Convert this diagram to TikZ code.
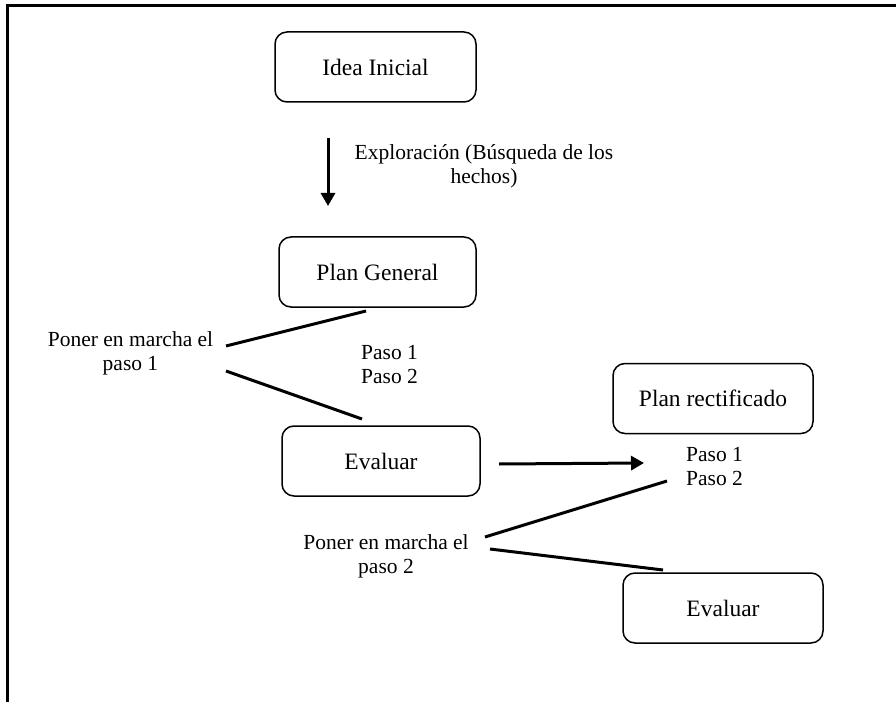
\documentclass[tikz,border=0pt]{standalone}
\usepackage{fontspec}
\setmainfont{Liberation Serif}
\usetikzlibrary{arrows.meta}
\begin{document}
\begin{tikzpicture}[x=1pt,y=-1pt,
  boxnode/.style={draw,line width=1.5pt,rounded corners=12pt,inner sep=0pt,font=\fontsize{23.5}{26}\selectfont},
  lbl/.style={inner sep=0pt,align=center,font=\fontsize{21.5}{24}\selectfont},
  conn/.style={line width=3pt},
  arr/.style={line width=3pt,-{Triangle[length=13pt,width=14pt]}}]
\useasboundingbox (0,0) rectangle (896,703);
\draw[line width=2.6pt] (7.5,702) -- (7.5,5.5) -- (896,5.5);
% boxes
\node[boxnode,minimum width=201pt,minimum height=70pt] (idea) at (375.5,67) {Idea Inicial};
\node[boxnode,minimum width=197pt,minimum height=70pt] (plan) at (377.5,272) {Plan General};
\node[boxnode,minimum width=198pt,minimum height=70pt] (eval1) at (381,461) {Evaluar};
\node[boxnode,minimum width=200pt,minimum height=70pt] (rect) at (713,398.5) {Plan rectificado};
\node[boxnode,minimum width=200pt,minimum height=70pt] (eval2) at (723,608) {Evaluar};
% labels
\node[lbl] (expl) at (484,166) {Exploración (Búsqueda de los\\hechos)};
\node[lbl] (poner1) at (130.5,353) {Poner en marcha el\\paso 1};
\node[lbl,align=left,anchor=west] (pasos1) at (361,365) {Paso 1\\Paso 2};
\node[lbl,align=left,anchor=west] (pasos2) at (686,467) {Paso 1\\Paso 2};
\node[lbl] (poner2) at (386,556) {Poner en marcha el\\paso 2};
% connector end points
\coordinate (a1) at (328,138);
\coordinate (a2) at (328,206);
\coordinate (l1a) at (226,346);
\coordinate (l1b) at (366,311);
\coordinate (l2a) at (226,371);
\coordinate (l2b) at (362,419);
\coordinate (r1) at (499,464);
\coordinate (r2) at (644,463);
\coordinate (l3a) at (485,537);
\coordinate (l3b) at (667,481);
\coordinate (l4a) at (490,549);
\coordinate (l4b) at (663,570);
% connectors
\draw[arr] (a1) -- (a2);
\draw[conn] (l1a) -- (l1b);
\draw[conn] (l2a) -- (l2b);
\draw[arr] (r1) -- (r2);
\draw[conn] (l3a) -- (l3b);
\draw[conn] (l4a) -- (l4b);
\end{tikzpicture}
\end{document}
